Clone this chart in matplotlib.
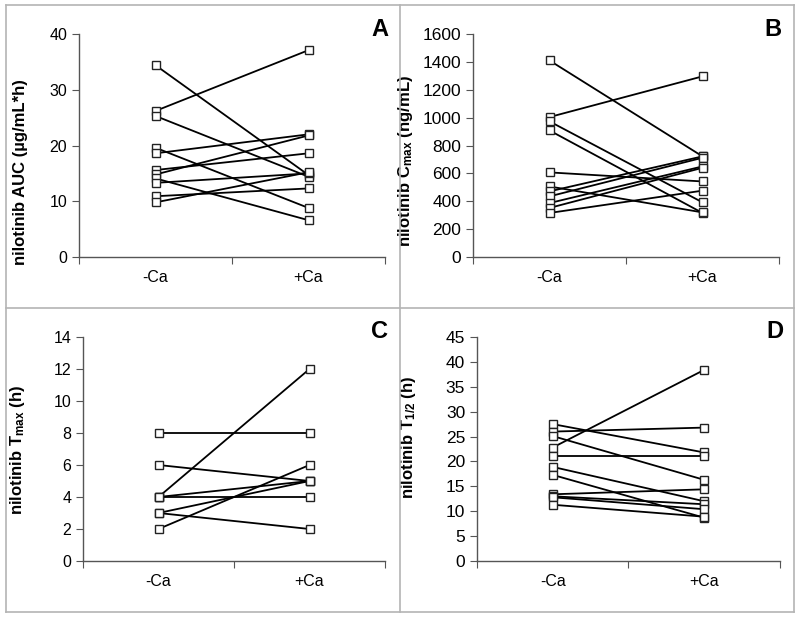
import matplotlib
matplotlib.use("Agg")
import matplotlib.pyplot as plt
from matplotlib.lines import Line2D

plt.rcParams['font.family'] = ['Liberation Sans', 'DejaVu Sans']
plt.rcParams['mathtext.default'] = 'regular'

groups = ['-Ca', '+Ca']

# paired values per subject: (-Ca, +Ca)
auc_minus = [34.4, 26.2, 25.3, 19.6, 18.6, 15.6, 14.8, 14.1, 13.3, 10.9, 9.8]
auc_plus = [14.7, 37.1, 14.4, 8.8, 22.0, 18.6, 21.8, 6.6, 15.0, 12.3, 15.2]

cmax_minus = [1410, 1004, 973, 908, 607, 506, 471, 435, 387, 352, 316]
cmax_plus = [722, 1296, 392, 316, 542, 320, 722, 712, 650, 640, 476]

tmax_minus = [8, 6, 4, 4, 4, 3, 3, 2]
tmax_plus = [8, 5, 12, 5, 4, 5, 2, 6]

thalf_minus = [27.5, 26.0, 25.1, 22.8, 21.0, 18.9, 17.3, 13.4, 13.0, 12.8, 11.3]
thalf_plus = [21.8, 26.8, 16.3, 38.4, 21.0, 12.0, 8.7, 14.4, 11.4, 10.4, 8.9]

# letter, -Ca, +Ca, label, ymax, step, box (px), tick size, label pos (axes frac)
panels = [
    ('A', auc_minus, auc_plus, 'nilotinib AUC (µg/mL*h)', 40, 10,
     [79, 34, 385, 257], 11.5, (-0.167, 0.38)),
    ('B', cmax_minus, cmax_plus, 'nilotinib C$_{max}$ (ng/mL)', 1600, 200,
     [473, 34, 779, 257], 12.5, (-0.19, 0.43)),
    ('C', tmax_minus, tmax_plus, 'nilotinib T$_{max}$ (h)', 14, 2,
     [83, 337, 385, 561], 11.5, (-0.185, 0.495)),
    ('D', thalf_minus, thalf_plus, 'nilotinib T$_{1/2}$ (h)', 45, 5,
     [477, 337, 780, 561], 12.5, (-0.195, 0.55)),
]

W, H = 800, 618
fig = plt.figure(figsize=(8, 6.18), dpi=100)

# panel frames
gray = '#b4b4b4'
for xs, ys in [([6, 794], [5, 5]), ([6, 794], [612, 612]), ([6, 6], [5, 612]),
               ([794, 794], [5, 612]), ([6, 794], [308, 308]), ([400, 400], [5, 612])]:
    fig.add_artist(Line2D([x / W for x in xs], [1 - y / H for y in ys],
                          color=gray, lw=1.2))

for letter, ym, yp, ylabel, ymax, step, box, tsize, lpos in panels:
    l, t, r, b = box
    ax = fig.add_axes([l / W, 1 - b / H, (r - l) / W, (b - t) / H])
    for a, c in zip(ym, yp):
        ax.plot([1, 2], [a, c], color='black', lw=1.3, marker='s',
                markersize=5.5, markerfacecolor='white', markeredgecolor='#222222',
                markeredgewidth=1.0)
    ax.set_xlim(0.5, 2.5)
    ax.set_ylim(0, ymax)
    ax.set_yticks(range(0, ymax + 1, step))
    ax.set_xticks([0.5, 1.5, 2.5])
    ax.set_xticklabels([])
    ax.set_xticks([1, 2], minor=True)
    ax.set_xticklabels(groups, minor=True)
    ax.tick_params(axis='x', which='minor', length=0, pad=9, labelsize=11.5)
    ax.tick_params(axis='x', which='major', length=5, color='#555555', direction='out')
    ax.tick_params(axis='y', length=5, color='#555555', direction='out', labelsize=tsize)
    for s in ['top', 'right']:
        ax.spines[s].set_visible(False)
    for s in ['left', 'bottom']:
        ax.spines[s].set_color('#555555')
        ax.spines[s].set_linewidth(1.0)
    ax.set_ylabel(ylabel, fontsize=12, fontweight='bold')
    ax.yaxis.set_label_coords(*lpos)
    ax.patch.set_alpha(0)
    fig.text((r + 3) / W, 1 - (t - 5) / H, letter, fontsize=17, fontweight='bold',
             ha='right', va='center')

fig.savefig('out.png', dpi=100)
